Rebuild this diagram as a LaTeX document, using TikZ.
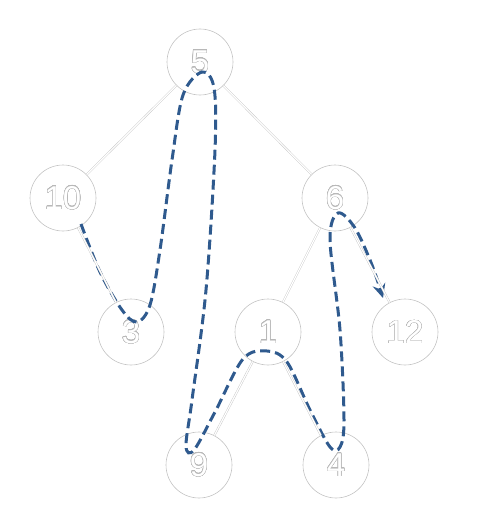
\documentclass[tikz,border=0pt]{standalone}
\usepackage{fontspec}
\setmainfont{Liberation Sans}
\usepackage{contour}
\contourlength{0.35pt}
\contournumber{24}
\usetikzlibrary{arrows.meta}
\definecolor{edgegray}{HTML}{C4C4C4}
\definecolor{textgray}{HTML}{B8B8B8}
\definecolor{pathblue}{HTML}{2F5A8E}
\tikzset{
  treenode/.style={circle, draw=edgegray, line width=0.6pt, minimum size=66pt, inner sep=0pt, fill=white,
    font=\fontsize{33}{33}\selectfont},
  treeedge/.style={draw=edgegray, line width=0.4pt, double=white, double distance=1.2pt},
  walk/.style={draw=pathblue, line width=3pt, dash pattern=on 10pt off 5pt, -{Stealth[length=14pt,width=13pt,inset=5pt]}}
}
\newcommand{\hollow}[1]{\contour{textgray}{\textcolor{white}{#1}}}
\begin{document}
\begin{tikzpicture}[x=1pt,y=-1pt]
\useasboundingbox (0,0) rectangle (481,519);
\node[treenode] (n5) at (200,62) {\hollow{5}};
\node[treenode] (n10) at (63,198) {\hollow{10}};
\node[treenode] (n6) at (335,198) {\hollow{6}};
\node[treenode] (n3) at (131,332) {\hollow{3}};
\node[treenode] (n1) at (268,332) {\hollow{1}};
\node[treenode] (n12) at (405,332) {\hollow{12}};
\node[treenode] (n9) at (199,465) {\hollow{9}};
\node[treenode] (n4) at (336,465) {\hollow{4}};
\draw[walk] plot[smooth, tension=0.55] coordinates {
 (81,224) (100,272) (122,310) (137,322) (150,305) (160,250) (172,160) (183,95) (202,72) (214,88)
 (215,150) (206,290) (192,400) (186,446) (194,450) (215,412) (243,359) (267,351) (287,362)
 (310,410) (330,447) (340,447) (344,420) (340,330) (330,240) (338,213) (355,228) (372,265) (383,298)};
\path[treeedge] (n5) -- (n10);
\path[treeedge] (n5) -- (n6);
\path[treeedge] (n10) -- (n3);
\path[treeedge] (n6) -- (n1);
\path[treeedge] (n6) -- (n12);
\path[treeedge] (n1) -- (n9);
\path[treeedge] (n1) -- (n4);
\end{tikzpicture}
\end{document}
